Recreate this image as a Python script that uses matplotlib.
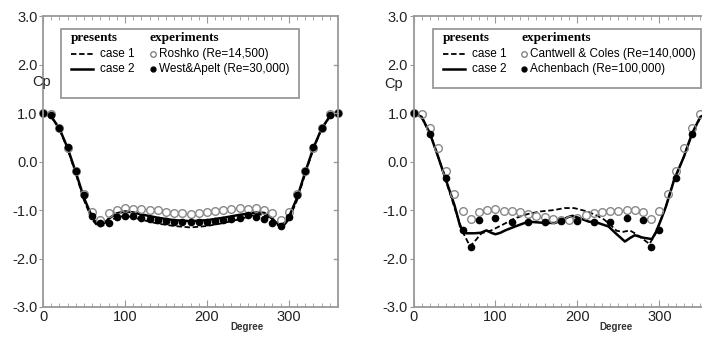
import matplotlib
matplotlib.use("Agg")
import matplotlib.pyplot as plt
from matplotlib.ticker import MultipleLocator, FormatStrFormatter
from matplotlib.patches import Rectangle

# ---- left panel data ----
exp_deg = list(range(0, 361, 10))
roshko_cp = [1.0, 0.97, 0.7, 0.28, -0.2, -0.68, -1.05, -1.2, -1.07, -0.99, -0.96,
             -0.97, -0.97, -0.99, -1.0, -1.04, -1.06, -1.07, -1.09, -1.06, -1.04,
             -1.02, -0.99, -0.97, -0.96, -0.97, -0.96, -0.99, -1.06, -1.2, -1.05,
             -0.68, -0.2, 0.28, 0.7, 0.97, 1.0]
west_cp = [1.0, 0.95, 0.7, 0.3, -0.2, -0.7, -1.12, -1.27, -1.27, -1.15, -1.13,
           -1.13, -1.16, -1.18, -1.2, -1.22, -1.24, -1.25, -1.25, -1.24, -1.24,
           -1.22, -1.2, -1.18, -1.16, -1.11, -1.15, -1.18, -1.27, -1.32, -1.15,
           -0.7, -0.2, 0.3, 0.7, 0.95, 1.0]

left_deg = [0, 10, 20, 30, 40, 50, 60, 65, 70, 75, 80, 90, 100, 110, 120, 140, 160,
            180, 200, 220, 240, 260, 270, 280, 285, 290, 295, 300, 310, 320, 330,
            340, 350, 360]
left_case2 = [1.0, 0.93, 0.68, 0.28, -0.22, -0.75, -1.15, -1.27, -1.31, -1.27, -1.18,
              -1.07, -1.03, -1.05, -1.09, -1.16, -1.21, -1.23, -1.21, -1.16, -1.1,
              -1.05, -1.06, -1.18, -1.27, -1.31, -1.27, -1.15, -0.75, -0.22, 0.28,
              0.68, 0.93, 1.0]
left_case1 = [1.0, 0.93, 0.67, 0.26, -0.25, -0.8, -1.2, -1.3, -1.34, -1.31, -1.24,
              -1.15, -1.12, -1.15, -1.2, -1.28, -1.33, -1.36, -1.33, -1.27, -1.19,
              -1.09, -1.1, -1.21, -1.3, -1.34, -1.3, -1.2, -0.8, -0.25, 0.26, 0.67,
              0.93, 1.0]

# ---- right panel data ----
cantwell_cp = [1.0, 0.97, 0.7, 0.28, -0.19, -0.66, -1.03, -1.19, -1.05, -1.0, -0.98,
               -1.03, -1.03, -1.05, -1.08, -1.12, -1.15, -1.19, -1.2, -1.21, -1.16,
               -1.1, -1.07, -1.05, -1.03, -1.03, -0.99, -1.01, -1.05, -1.19, -1.03,
               -0.66, -0.19, 0.28, 0.7, 0.97, 1.0]
achen_deg = [0, 20, 40, 60, 70, 80, 100, 120, 140, 160, 180, 200, 220, 240, 260,
             280, 290, 300, 320, 340, 360]
achen_cp = [1.0, 0.57, -0.35, -1.41, -1.77, -1.21, -1.17, -1.24, -1.24, -1.24, -1.22,
            -1.22, -1.24, -1.24, -1.17, -1.2, -1.77, -1.41, -0.35, 0.57, 1.0]

right2_deg = [0, 10, 20, 30, 40, 50, 57, 64, 74, 82, 89, 95, 100, 106, 112, 124, 140,
              155, 172, 180, 188, 194, 203, 214, 224, 238, 248, 258, 264, 270, 280,
              291, 296, 302, 308, 318, 330, 340, 350, 360]
right_case2 = [1.0, 0.92, 0.58, 0.1, -0.4, -0.9, -1.34, -1.48, -1.48, -1.47, -1.42,
               -1.47, -1.5, -1.47, -1.42, -1.34, -1.24, -1.26, -1.27, -1.22, -1.15,
               -1.12, -1.17, -1.24, -1.26, -1.34, -1.5, -1.65, -1.58, -1.52, -1.57,
               -1.6, -1.45, -1.2, -0.93, -0.38, 0.1, 0.58, 0.92, 1.0]
right1_deg = [0, 10, 20, 30, 40, 50, 60, 69, 76, 83, 95, 108, 124, 140, 155, 172, 184,
              196, 212, 222, 232, 240, 248, 256, 264, 272, 280, 288, 296, 302, 308,
              318, 330, 340, 350, 360]
right_case1 = [1.0, 0.9, 0.58, 0.1, -0.42, -0.95, -1.45, -1.75, -1.62, -1.48, -1.42,
               -1.31, -1.17, -1.08, -1.03, -1.0, -0.96, -0.96, -1.03, -1.1, -1.19,
               -1.3, -1.43, -1.45, -1.42, -1.5, -1.6, -1.7, -1.47, -1.2, -0.93, -0.38,
               0.1, 0.58, 0.9, 1.0]

GRAY = "#999999"
SANS = "Liberation Sans"
SERIF = "Liberation Serif"


def style_axes(ax):
    ax.set_xlim(0, 360)
    ax.set_ylim(-3, 3)
    for s in ax.spines.values():
        s.set_color(GRAY)
        s.set_linewidth(1.3)
    ax.xaxis.set_major_locator(MultipleLocator(100))
    ax.xaxis.set_minor_locator(MultipleLocator(10))
    ax.yaxis.set_major_locator(MultipleLocator(1))
    ax.yaxis.set_major_formatter(FormatStrFormatter("%.1f"))
    ax.tick_params(axis="x", which="both", direction="in", top=True, bottom=True,
                   color=GRAY, labelsize=10.5, pad=2)
    ax.tick_params(axis="x", which="major", length=5)
    ax.tick_params(axis="x", which="minor", length=3)
    ax.tick_params(axis="y", which="major", direction="out", left=True, right=False,
                   length=3, color=GRAY, labelsize=10.5, pad=1)
    for lab in ax.get_xticklabels() + ax.get_yticklabels():
        lab.set_fontfamily(SANS)
        lab.set_color("#222222")
    # inward ticks on the right spine
    for yv in [-2, -1, 0, 1, 2]:
        ax.plot([0.985, 1.0], [yv, yv], transform=ax.get_yaxis_transform(),
                color=GRAY, lw=1, clip_on=False)


def legend_box(ax, x0, x1, y0, y1, col2, lab_open, lab_fill):
    ax.add_patch(Rectangle((x0, y0), x1 - x0, y1 - y0, transform=ax.transAxes,
                           fill=False, ec=GRAY, lw=1.3))
    w = 295.0
    h = 291.0
    ax.text(x0 + 10 / w, y1 - 9 / h, "presents", transform=ax.transAxes,
            fontfamily=SERIF, fontweight="bold", fontsize=9.5, va="center")
    ax.text(col2, y1 - 9 / h, "experiments", transform=ax.transAxes,
            fontfamily=SERIF, fontweight="bold", fontsize=9.5, va="center")
    r1 = y1 - 25 / h
    r2 = y1 - 40 / h
    lx = x0 + 10 / w
    ax.plot([lx, lx + 22 / w], [r1, r1], "--", color="black", lw=1.3,
            transform=ax.transAxes, dashes=(3, 1.5))
    ax.plot([lx, lx + 22 / w], [r2, r2], "-", color="black", lw=1.8,
            transform=ax.transAxes)
    ax.text(lx + 29 / w, r1, "case 1", transform=ax.transAxes, fontfamily=SANS,
            fontsize=8.5, va="center")
    ax.text(lx + 29 / w, r2, "case 2", transform=ax.transAxes, fontfamily=SANS,
            fontsize=8.5, va="center")
    ax.plot([col2 + 3 / w], [r1], "o", mfc="none", mec="#777777", ms=4, mew=0.9,
            transform=ax.transAxes)
    ax.plot([col2 + 3 / w], [r2], "o", color="black", ms=3.5, transform=ax.transAxes)
    ax.text(col2 + 9 / w, r1, lab_open, transform=ax.transAxes, fontfamily=SANS,
            fontsize=8.5, va="center")
    ax.text(col2 + 9 / w, r2, lab_fill, transform=ax.transAxes, fontfamily=SANS,
            fontsize=8.5, va="center")


fig = plt.figure(figsize=(7.02, 3.37), dpi=100)
W, H = 702.0, 337.0

ax1 = fig.add_axes([43 / W, 30 / H, 295 / W, 291 / H])
ax2 = fig.add_axes([413.5 / W, 30 / H, 295 / W, 291 / H])

# left panel
ax1.plot(left_deg, left_case1, "--", color="black", lw=1.3, dashes=(3, 1.5))
ax1.plot(left_deg, left_case2, "-", color="black", lw=1.8)
ax1.plot(exp_deg, roshko_cp, "o", mfc="none", mec="#888888", ms=5.5, mew=1.0,
         clip_on=False)
ax1.plot(exp_deg, west_cp, "o", color="black", ms=4.5, clip_on=False)
style_axes(ax1)
legend_box(ax1, 0.061, 0.868, 0.718, 0.955, (150 - 43) / 295.0,
           "Roshko (Re=14,500)", "West&Apelt (Re=30,000)")

# right panel
ax2.plot(right1_deg, right_case1, "--", color="black", lw=1.3, dashes=(3, 1.5))
ax2.plot(right2_deg, right_case2, "-", color="black", lw=1.8)
ax2.plot(exp_deg, cantwell_cp, "o", mfc="none", mec="#888888", ms=5.5, mew=1.0,
         clip_on=False)
ax2.plot(achen_deg, achen_cp, "o", color="black", ms=4.5, clip_on=False)
style_axes(ax2)
legend_box(ax2, 0.065, 0.975, 0.752, 0.955, (521 - 413.5) / 295.0,
           "Cantwell & Coles (Re=140,000)", "Achenbach (Re=100,000)")

# axis labels
fig.text(41.5 / W, 1 - 82 / H, "Cp", fontfamily=SANS, fontsize=10.5, ha="center",
         va="center", color="#222222")
fig.text(393.5 / W, 1 - 84 / H, "Cp", fontfamily=SANS, fontsize=10.5, ha="center",
         va="center", color="#222222")
fig.text(247 / W, 1 - 327 / H, "Degree", fontfamily=SANS, fontsize=7,
         fontweight="bold", ha="center", va="center", color="#333333")
fig.text(616 / W, 1 - 327 / H, "Degree", fontfamily=SANS, fontsize=7,
         fontweight="bold", ha="center", va="center", color="#333333")

fig.savefig("out.png", dpi=100)
